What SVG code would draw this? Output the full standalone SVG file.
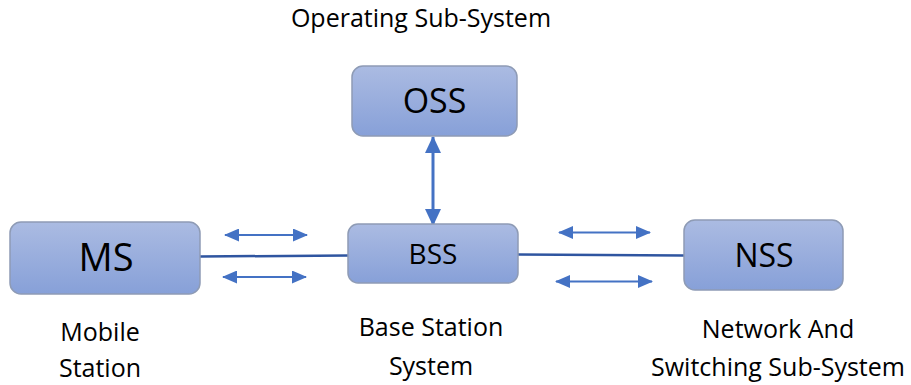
<svg xmlns="http://www.w3.org/2000/svg" width="911" height="385" viewBox="0 0 911 385">
<defs>
<linearGradient id="g" x1="0" y1="0" x2="0" y2="1">
<stop offset="0" stop-color="#abbbe2"/>
<stop offset="1" stop-color="#87a0d8"/>
</linearGradient>
<marker id="ah" viewBox="0 0 15 13" refX="14" refY="6.5" markerWidth="15" markerHeight="13" markerUnits="userSpaceOnUse" orient="auto-start-reverse">
<path d="M0,0 L15,6.5 L0,13 Z" fill="#4472c4"/>
</marker>
<marker id="ah2" viewBox="0 0 17 16" refX="16" refY="8" markerWidth="17" markerHeight="16" markerUnits="userSpaceOnUse" orient="auto-start-reverse">
<path d="M0,0 L17,8 L0,16 Z" fill="#4472c4"/>
</marker>
</defs>
<style>
.box{fill:url(#g);stroke:#8e9bb5;stroke-width:1.5}
.t{font-family:"Open Sans","Liberation Sans",sans-serif;fill:#000;text-anchor:middle}
.lbl{font-size:25px}
.link{stroke:#2f55a0;stroke-width:2.5;fill:none}
.arr{stroke:#4472c4;stroke-width:1.8;fill:none;marker-start:url(#ah);marker-end:url(#ah)}
.varr{stroke:#4472c4;stroke-width:3;fill:none;marker-start:url(#ah2);marker-end:url(#ah2)}
</style>
<g id="connectors">
<line class="link" x1="200" y1="256.5" x2="348" y2="255.5"/>
<line class="link" x1="518" y1="254.5" x2="684" y2="255.5"/>
<line class="varr" x1="433" y1="137" x2="433" y2="225"/>
<line class="arr" x1="225" y1="235" x2="307" y2="235"/>
<line class="arr" x1="223" y1="277" x2="306" y2="277"/>
<line class="arr" x1="559" y1="232.5" x2="650" y2="232.5"/>
<line class="arr" x1="556" y1="281.5" x2="652" y2="281.5"/>
</g>
<g id="oss">
<rect class="box" x="352" y="66" width="165" height="70" rx="11"/>
<text class="t" x="434.5" y="113" font-size="34">OSS</text>
<text class="t lbl" x="421" y="27">Operating Sub-System</text>
</g>
<g id="ms">
<rect class="box" x="10" y="222" width="190" height="72" rx="11"/>
<text class="t" x="106" y="271" font-size="38">MS</text>
<text class="t lbl" x="100" y="341">Mobile</text>
<text class="t lbl" x="100" y="377">Station</text>
</g>
<g id="bss">
<rect class="box" x="348" y="224" width="170" height="59" rx="10"/>
<text class="t" x="433" y="264" font-size="28">BSS</text>
<text class="t lbl" x="431" y="336">Base Station</text>
<text class="t lbl" x="431" y="375">System</text>
</g>
<g id="nss">
<rect class="box" x="684" y="220" width="159" height="70" rx="11"/>
<text class="t" x="764" y="267" font-size="32">NSS</text>
<text class="t lbl" x="778" y="338">Network And</text>
<text class="t lbl" x="778" y="376">Switching Sub-System</text>
</g>
</svg>
